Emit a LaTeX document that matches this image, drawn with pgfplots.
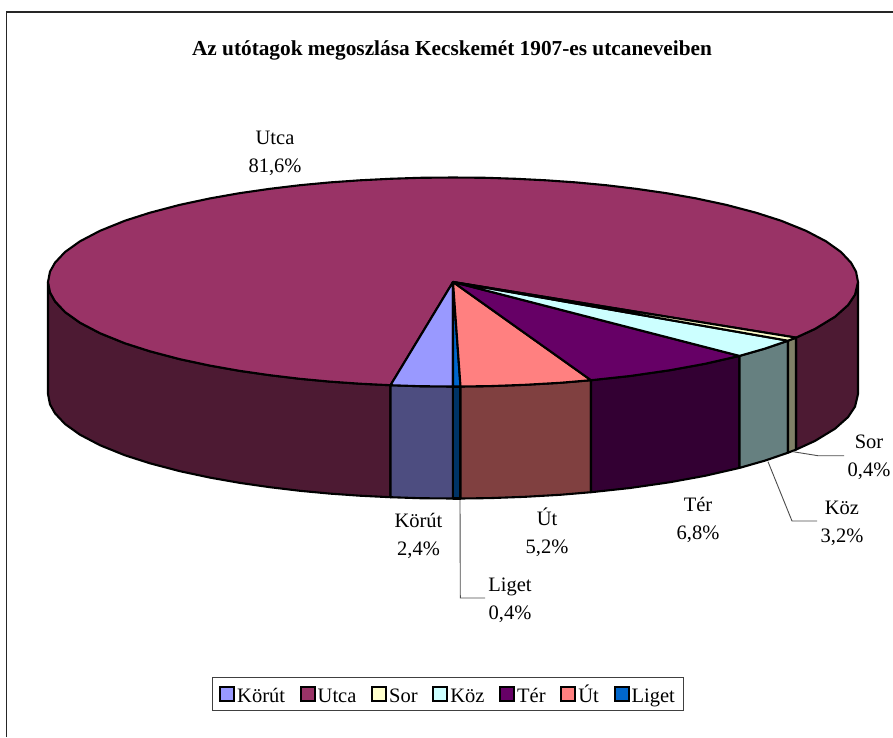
\documentclass[border=0pt]{standalone}
\usepackage{pgfplots}
\pgfplotsset{compat=1.18}
\usepackage{fontspec}
\setmainfont{Liberation Serif}
\definecolor{cKorut}{HTML}{9999FF}
\definecolor{cUtca}{HTML}{993366}
\definecolor{cSor}{HTML}{FFFFCC}
\definecolor{cKoz}{HTML}{CCFFFF}
\definecolor{cTer}{HTML}{660066}
\definecolor{cUt}{HTML}{FF8080}
\definecolor{cLiget}{HTML}{0066CC}
\definecolor{sKorut}{HTML}{4D4D80}
\definecolor{sUtca}{HTML}{4D1A33}
\definecolor{sSor}{HTML}{808066}
\definecolor{sKoz}{HTML}{668080}
\definecolor{sTer}{HTML}{330033}
\definecolor{sUt}{HTML}{804040}
\definecolor{sLiget}{HTML}{003366}
\newcommand{\lab}{\fontsize{20.5}{28}\selectfont}
\newcommand{\lgph}{\vphantom{Úg}}
\pgfplotsset{
  slice/.style={draw=black,line width=2.1pt,line join=round,no markers,forget plot,fill=#1},
  leader/.style={draw=black!70,line width=0.9pt,no markers,forget plot},
  swatch/.style={legend image code/.code={\draw[draw=black,line width=2pt,fill=#1] (0pt,-6.5pt) rectangle (14pt,7.5pt);}}
}
\begin{document}
\begin{tikzpicture}[x=1pt,y=1pt]
\useasboundingbox (0,0) rectangle (893,737);
\begin{axis}[
  at={(0,0)},anchor=south west,
  scale only axis,width=893pt,height=737pt,
  xmin=0,xmax=893,ymin=0,ymax=737,y dir=reverse,
  hide axis,clip=false,
  legend columns=7,
  legend cell align=left,
  legend style={at={(axis cs:448,694)},anchor=center,draw=black!75,line width=0.9pt,
    font=\fontsize{20.5}{24}\selectfont,inner xsep=7pt,inner ysep=5pt,
    /tikz/every even column/.append style={column sep=12.7pt},
    /tikz/every odd column/.append style={column sep=0pt}},
]
\addlegendimage{swatch=cKorut}\addlegendentry{\lgph Körút}
\addlegendimage{swatch=cUtca}\addlegendentry{\lgph Utca}
\addlegendimage{swatch=cSor}\addlegendentry{\lgph Sor}
\addlegendimage{swatch=cKoz}\addlegendentry{\lgph Köz}
\addlegendimage{swatch=cTer}\addlegendentry{\lgph Tér}
\addlegendimage{swatch=cUt}\addlegendentry{\lgph Út}
\addlegendimage{swatch=cLiget}\addlegendentry{\lgph Liget}

\draw[black!85,line width=1.6pt] (axis cs:6.5,737) -- (axis cs:6.5,12) -- (axis cs:893,12);

% walls
\addplot[slice=sUtca] coordinates {(48,282)(50,292.4)(55,301.3)(65,312)(80,322.7)(100,333.2)(125,343.3)(150,351.3)(180,359.2)(210,365.6)(240,370.9)(270,375.2)(300,378.8)(330,381.6)(360,383.7)(390.5,385.2)(390.5,497.2)(360,495.7)(330,493.6)(300,490.8)(270,487.2)(240,482.9)(210,477.6)(180,471.2)(150,463.3)(125,455.3)(100,445.2)(80,434.7)(65,424)(55,413.3)(50,404.4)(48,394)} -- cycle;
\addplot[slice=sUtca] coordinates {(796,337.6)(815,328.9)(835,316.7)(848,305.1)(855,294.7)(858,282)(858,394)(855,406.7)(848,417.1)(835,428.7)(815,440.9)(796,449.6)} -- cycle;
\addplot[slice=sKorut] coordinates {(390.5,385.2)(420,386.2)(453,386.5)(453,498.5)(420,498.2)(390.5,497.2)} -- cycle;
\addplot[slice=sLiget] coordinates {(453,386.5)(460.5,386.5)(460.5,498.5)(453,498.5)} -- cycle;
\addplot[slice=sUt] coordinates {(460.5,386.5)(490,386.1)(525,384.8)(560,382.8)(591,380.2)(591,492.2)(560,494.8)(525,496.8)(490,498.1)(460.5,498.5)} -- cycle;
\addplot[slice=sTer] coordinates {(591,380.2)(630,376)(670,370.2)(705,363.8)(739.5,355.9)(739.5,467.9)(705,475.8)(670,482.2)(630,488)(591,492.2)} -- cycle;
\addplot[slice=sKoz] coordinates {(739.5,355.9)(765,348.6)(788,340.7)(788,452.7)(765,460.6)(739.5,467.9)} -- cycle;
\addplot[slice=sSor] coordinates {(788,340.7)(796,337.6)(796,449.6)(788,452.7)} -- cycle;

% top faces
\addplot[slice=cUtca] coordinates {(453,282)(796,337.6)(815,328.9)(835,316.7)(848,305.1)(855,294.7)(858,282)(856,271.6)(851,262.7)(841,252)(826,241.3)(806,230.8)(781,220.7)(756,212.7)(726,204.8)(696,198.4)(666,193.1)(636,188.8)(606,185.2)(576,182.4)(546,180.3)(516,178.8)(486,177.8)(453,177.5)(420,177.8)(390,178.8)(360,180.3)(330,182.4)(300,185.2)(270,188.8)(240,193.1)(210,198.4)(180,204.8)(150,212.7)(125,220.7)(100,230.8)(80,241.3)(65,252)(55,262.7)(50,271.6)(48,282)(50,292.4)(55,301.3)(65,312)(80,322.7)(100,333.2)(125,343.3)(150,351.3)(180,359.2)(210,365.6)(240,370.9)(270,375.2)(300,378.8)(330,381.6)(360,383.7)(390.5,385.2)} -- cycle;
\addplot[slice=cKorut] coordinates {(453,282)(390.5,385.2)(420,386.2)(453,386.5)} -- cycle;
\addplot[slice=cLiget] coordinates {(453,282)(453,386.5)(460.5,386.5)} -- cycle;
\addplot[slice=cUt] coordinates {(453,282)(460.5,386.5)(490,386.1)(525,384.8)(560,382.8)(591,380.2)} -- cycle;
\addplot[slice=cTer] coordinates {(453,282)(591,380.2)(630,376)(670,370.2)(705,363.8)(739.5,355.9)} -- cycle;
\addplot[slice=cKoz] coordinates {(453,282)(739.5,355.9)(765,348.6)(788,340.7)} -- cycle;
\addplot[slice=cSor] coordinates {(453,282)(788,340.7)(796,337.6)} -- cycle;

% leader lines
\addplot[leader] coordinates {(793,451.7)(818,455.7)(844,455.7)};
\addplot[leader] coordinates {(768,461.7)(792,521)(817,521)};
\addplot[leader] coordinates {(460,500)(460.3,598)(485,598)};

% texts
\node[font=\bfseries\fontsize{21.3}{25}\selectfont] at (axis cs:452,50.5) {Az utótagok megoszlása Kecskemét 1907-es utcaneveiben};
\node[font=\lab,align=center] at (axis cs:275,153) {Utca\\81,6\%};
\node[font=\lab,align=center] at (axis cs:418.5,535.5) {Körút\\2,4\%};
\node[font=\lab,align=center] at (axis cs:547,532) {Út\\5,2\%};
\node[font=\lab,align=center] at (axis cs:698,520) {Tér\\6,8\%};
\node[font=\lab,align=center] at (axis cs:842,523) {Köz\\3,2\%};
\node[font=\lab,align=center] at (axis cs:869,457.5) {Sor\\0,4\%};
\node[font=\lab,align=center] at (axis cs:510,600) {Liget\\0,4\%};
\end{axis}
\end{tikzpicture}
\end{document}
